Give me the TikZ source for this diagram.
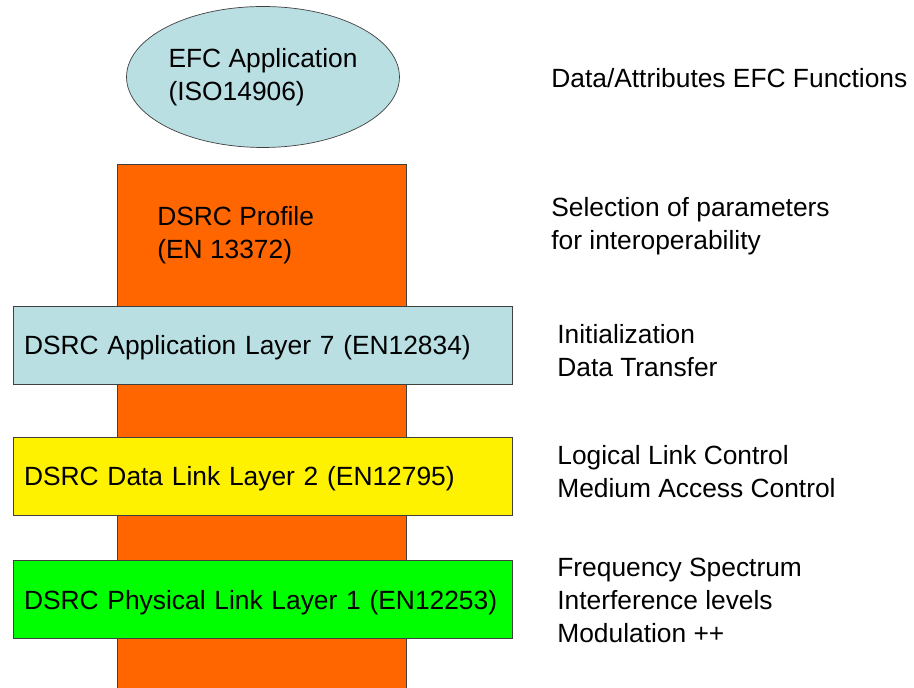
\documentclass[tikz,border=0pt]{standalone}
\usepackage{fontspec}
\setmainfont{Liberation Sans}
\usetikzlibrary{shapes.geometric}
\definecolor{paleblue}{HTML}{B9DFE3}
\definecolor{dsrcorange}{HTML}{FF6600}
\definecolor{edgegray}{HTML}{404040}

\begin{document}
\begin{tikzpicture}[x=0.02cm, y=-0.02cm,
    every node/.style={font=\fontsize{15}{18.6}\selectfont},
    layer/.style={draw=edgegray, minimum height=1.56cm, text width=9.54cm,
        inner xsep=0.22cm, text depth=0pt, align=left},
    note/.style={anchor=west, align=left, inner sep=0pt}]
    \useasboundingbox (0,0) rectangle (914,688);

    % First, the orange column behind the layers
        \node[fill=dsrcorange, minimum width=5.76cm, minimum height=10.46cm,
            inner sep=0pt] (column) at (262,426.5) {};
        \draw[edgegray] (column.south west) -- (column.north west)
            -- (column.north east) -- (column.south east);
        \node[note] (profile) at (157,235) {DSRC Profile\\(EN 13372)};

    % Now the application on top and the three layers
        \node[ellipse, draw=edgegray, fill=paleblue, minimum width=5.46cm,
            minimum height=2.82cm, inner sep=0pt, align=left] (efc) at (263,77)
            {EFC Application\\(ISO14906)};
        \node[layer, fill=paleblue] (app) at (262.5,345) {DSRC Application Layer 7 (EN12834)};
        \node[layer, fill=yellow] (link) at (262.5,476) {DSRC Data Link Layer 2 (EN12795)};
        \node[layer, fill=green] (phys) at (262.5,599.5) {DSRC Physical Link Layer 1 (EN12253)};

    % Descriptions on the right
        \node[note] (efcnote) at (551,78) {Data/Attributes EFC Functions};
        \node[note] (profilenote) at (551,226.5) {Selection of parameters\\for interoperability};
        \node[note] (appnote) at (557,350.5) {Initialization\\Data Transfer};
        \node[note] (linknote) at (557,471.5) {Logical Link Control\\Medium Access Control};
        \node[note] (physnote) at (557,600.5) {Frequency Spectrum\\Interference levels\\Modulation ++};
    \end{tikzpicture}
\end{document}
